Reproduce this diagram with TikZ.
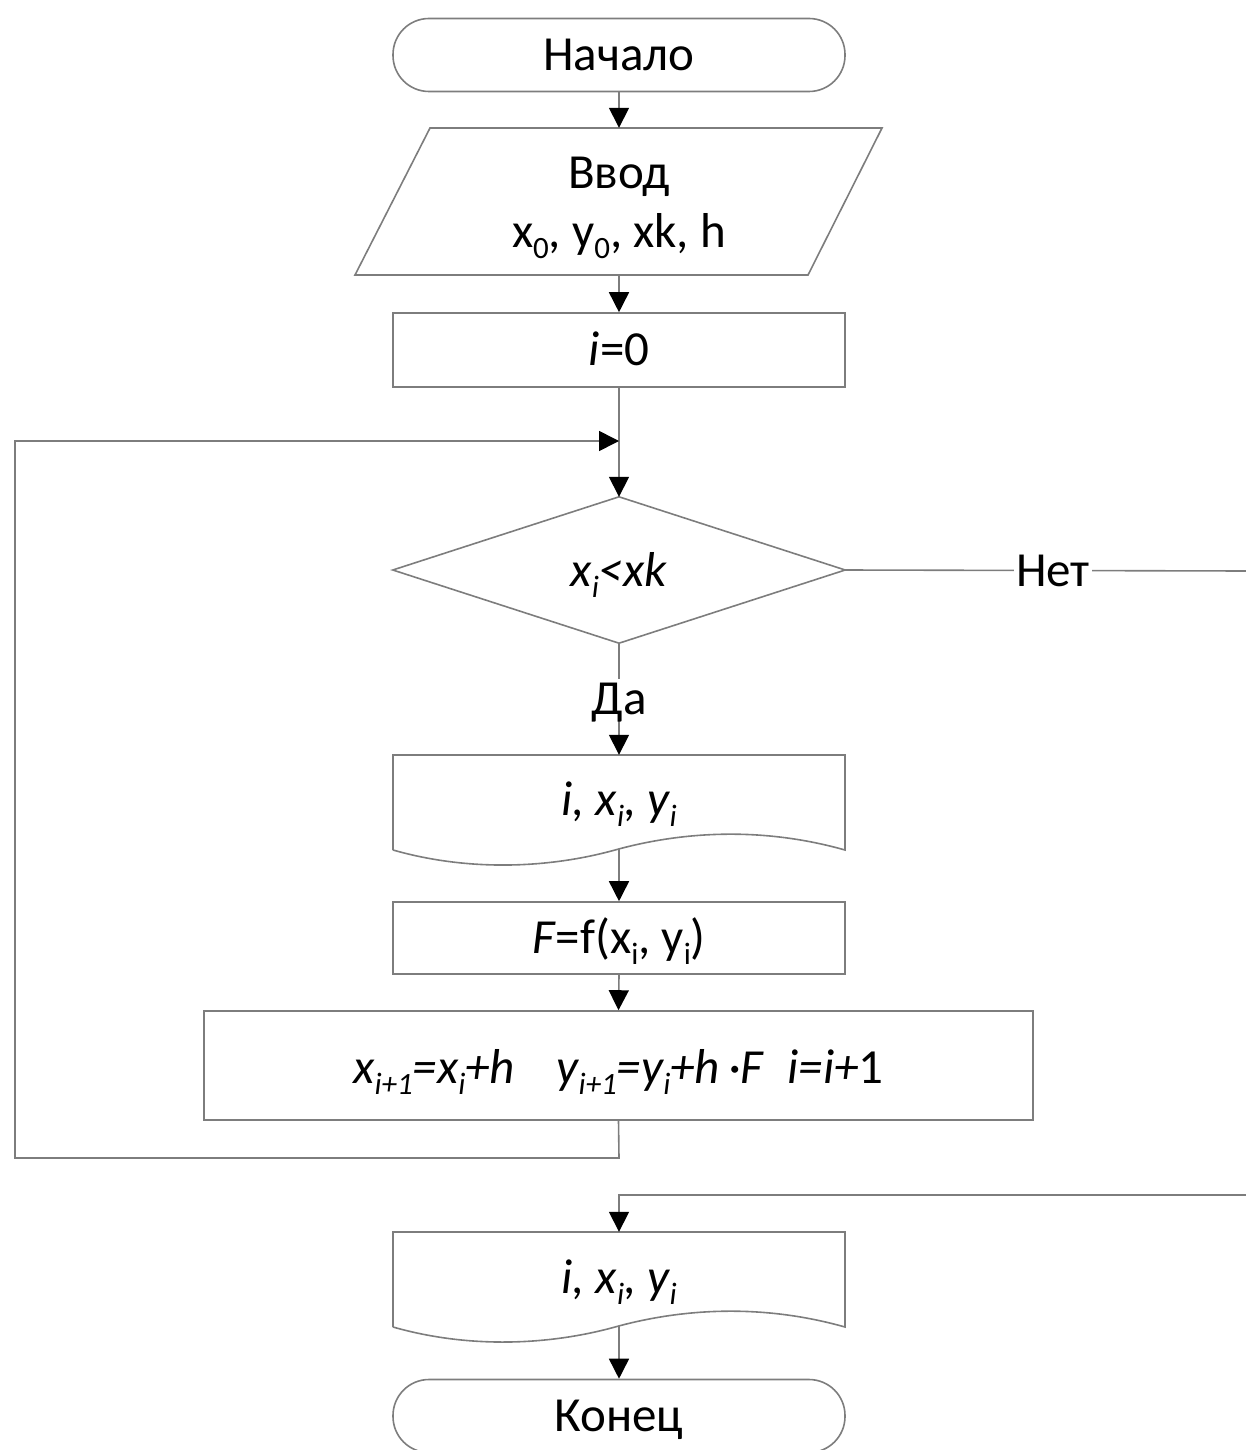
\documentclass[tikz,border=0pt]{standalone}
\usepackage{fontspec}
\setmainfont{Carlito}
\usetikzlibrary{arrows.meta,calc}
\definecolor{ln}{RGB}{125,125,125}
\newcommand\sbs[1]{\raisebox{-0.22em}{\fontsize{31}{31}\selectfont #1}}
\begin{document}
\begin{tikzpicture}[x=1pt,y=-1pt,
  every node/.style={font=\fontsize{49}{62}\selectfont, inner sep=0pt},
  txt/.style={text height=31pt, text depth=0pt},
  shp/.style={draw=ln, line width=1.6pt},
  box/.style={minimum width=452pt, anchor=center},
  conn/.style={draw=ln, line width=1.6pt},
  arr/.style={conn, -{Triangle[length=20pt,width=20pt,color=black]}},
  lbl/.style={fill=white, inner xsep=2pt, inner ysep=5pt, txt}]
\useasboundingbox (0,0) rectangle (1246,1450);

% Start
\node[box, minimum height=73pt, shp, rounded corners=36pt, txt] (start) at (619,55) {Начало};
% Input parallelogram
\node[box, minimum height=147pt] (inp) at (619,201.5) {};
\node[txt] (inpa) at (619,173) {Ввод};
\node[txt] (inpb) at (619,232) {x\sbs{0}, y\sbs{0}, xk, h};
\draw[shp] (430,128) -- (882,128) -- (808,275) -- (355,275) -- cycle;
% i=0
\node[box, minimum height=74pt, shp, txt] (init) at (619,350) {\textit{i}=0};
% Decision
\node[box, minimum height=146pt] (dec) at (619,570) {};
\node[txt] (dect) at (619,571) {\textit{x\sbs{i}<xk}};
\draw[shp] (dec.north) -- (dec.east) -- (dec.south) -- (dec.west) -- cycle;
% Output 1
\node[box, minimum height=95pt] (out1) at (619,802.5) {};
\node[txt] (out1t) at (619,800) {\textit{i, x\sbs{i}, y\sbs{i}}};
\draw[shp] (393,850) -- (393,755) -- (845,755) -- (845,850)
  .. controls (760,826) and (680,832) .. (615,850)
  .. controls (550,868) and (470,872) .. (393,850);
\coordinate (out1b) at (619,849);
% F box
\node[box, minimum height=72pt, shp] (fbox) at (619,938) {};
\node[txt] (fboxt) at (619,938) {\textit{F}=f(x\sbs{i}, y\sbs{i})};
% Process
\node[minimum width=829pt, minimum height=109pt, shp] (proc) at (618.5,1065.5) {};
\node[txt] (proct) at (618.5,1068)
  {\textit{x\sbs{i+1}=x\sbs{i}+h\hspace{0.85em}y\sbs{i+1}=y\sbs{i}+h\,·F\hspace{0.5em}i=i+}1};
% Output 2
\node[box, minimum height=95pt] (out2) at (619,1279.5) {};
\node[txt] (out2t) at (619,1278) {\textit{i, x\sbs{i}, y\sbs{i}}};
\draw[shp] (393,1327) -- (393,1232) -- (845,1232) -- (845,1327)
  .. controls (760,1303) and (680,1309) .. (615,1327)
  .. controls (550,1345) and (470,1349) .. (393,1327);
\coordinate (out2b) at (619,1326);
% End
\node[box, minimum height=73pt, shp, rounded corners=36pt, txt] (endn) at (619,1416) {Конец};

% helper coordinates
\coordinate (j) at (619,441);
\coordinate (lb) at (15,1158);
\coordinate (lt) at (15,441);
\coordinate (pb) at (619,1158);
\coordinate (r1) at (1248,571);
\coordinate (r2) at (1248,1195);
\coordinate (r3) at (619,1195);

% connectors
\draw[arr] (start.south) -- (inp.north);
\draw[arr] (inp.south) -- (init.north);
\draw[arr] (init.south) -- (dec.north);
\draw[arr] (proc.south) -- (pb) -- (lb) -- (lt) -- (j);
\draw[arr] (dec.south) -- node[lbl, pos=0.5] {Да} (out1.north);
\draw[arr] (dec.east) -- node[lbl, pos=0.516] {Нет} (r1) -- (r2) -- (r3) -- (out2.north);
\draw[arr] (out1b) -- (fbox.north);
\draw[arr] (fbox.south) -- (proc.north);
\draw[arr] (out2b) -- (endn.north);
\end{tikzpicture}
\end{document}
